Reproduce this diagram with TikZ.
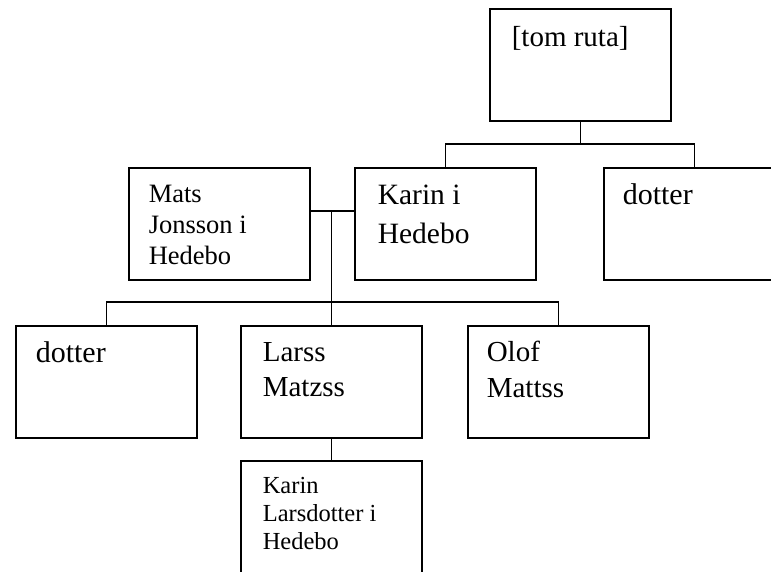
\documentclass[tikz,border=0pt]{standalone}
\usepackage{fontspec}
\setmainfont{Liberation Serif}
\newcommand{\lift}{\rule{0pt}{24pt}}

\begin{document}
\begin{tikzpicture}[x=1pt, y=-1pt, line width=1.6pt,
    txt/.style 2 args={anchor=north west, align=left, inner sep=0pt,
      font=\fontsize{#1}{#2}\selectfont}]
  \tikzstyle{box}=[draw, rectangle, anchor=north west, inner sep=0pt,
    minimum width=181pt, minimum height=112pt]

  \clip (0, 0) rectangle (771, 571);

  % boxes
  \path
    (489,   8) node[box] (tom) {}
    (128, 167) node[box] (mats) {}
    (354, 167) node[box] (karin) {}
    (603, 167) node[box] (dotR) {}
    ( 15, 325) node[box] (dotL) {}
    (240, 325) node[box] (lars) {}
    (467, 325) node[box] (olof) {}
    (240, 460) node[box] (karinL) {};

  % texts
  \path
    (511,  22) node[txt={29}{35}] (tom-t) {\lift[tom ruta]}
    (148, 178) node[txt={26.5}{31}] (mats-t) {\lift Mats\\Jonsson i\\Hedebo}
    (377, 180) node[txt={29.5}{39}] (karin-t) {\lift Karin i\\Hedebo}
    (622, 180) node[txt={30}{35}] (dotR-t) {\lift dotter}
    ( 35, 338) node[txt={30}{35}] (dotL-t) {\lift dotter}
    (262, 337) node[txt={29}{35}] (lars-t) {\lift Larss\\Matzss}
    (486, 337) node[txt={29}{36}] (olof-t) {\lift Olof\\Mattss}
    (262, 469) node[txt={24.5}{28}] (karinL-t) {\lift Karin\\Larsdotter i\\Hedebo};

  \coordinate (sibs) at (tom.south |- 0, 144);
  \coordinate (wed) at (lars.north |- 0, 211);
  \coordinate (kids) at (lars.north |- 0, 302);

  % lines
  \draw (tom.south) -- (sibs);
  \draw (karin.north) |- (sibs) -| (dotR.north);
  \draw (mats.east |- wed) -- (karin.west |- wed);
  \draw (wed) -- (kids);
  \draw (dotL.north) |- (kids) -| (olof.north);
  \draw (kids) -- (lars.north);
  \draw (lars.south) -- (karinL.north);
\end{tikzpicture}
\end{document}
